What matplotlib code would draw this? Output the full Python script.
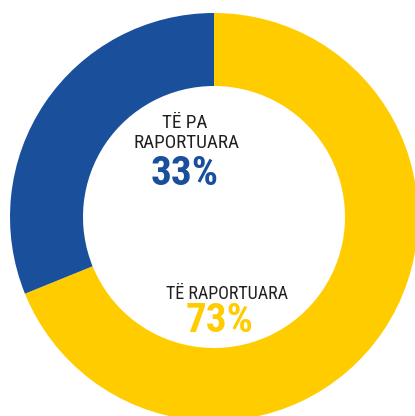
import matplotlib
matplotlib.use("Agg")
import matplotlib.pyplot as plt

# data
labels = ["TË RAPORTUARA", "TË PA\nRAPORTUARA"]
values = [73, 33]
pct_text = ["73%", "33%"]
colors = ["#FFCC00", "#1A4F9C"]
text_colors = ["#FFCC00", "#1A4F9C"]

COND = ["Roboto Condensed", "DejaVu Sans"]
INK = "#231F20"

W, H = 415, 416
CX, CY = 214, 217          # ring centre, pixels from the top-left
R_OUT, R_IN = 204, 131

fig = plt.figure(figsize=(W / 100, H / 100), dpi=100)
ax = fig.add_axes([0, 0, 1, 1])

ax.pie(values, colors=colors, startangle=90, counterclock=False,
       radius=R_OUT, center=(0, 0),
       wedgeprops=dict(width=R_OUT - R_IN, linewidth=0))
ax.set_xlim(-CX, W - CX)
ax.set_ylim(-(H - CY), CY)
ax.set_aspect("equal")
ax.axis("off")


def put(x, y, s, **kw):
    # x, y in picture pixels from the top-left, baseline anchored
    ax.text(x - CX, CY - y, s, ha="center", va="baseline", family=COND, **kw)


top_line, bottom_line = labels[1].split("\n")
put(185, 128, top_line, fontsize=13.8, color=INK)
put(186, 148, bottom_line, fontsize=13.8, color=INK)
put(185, 185, pct_text[1], fontsize=29.5, fontweight="bold", color=text_colors[1])

put(227, 299, labels[0], fontsize=13, color=INK)
put(220, 332, pct_text[0], fontsize=29.5, fontweight="bold", color=text_colors[0])

fig.savefig("out.png", dpi=100)
